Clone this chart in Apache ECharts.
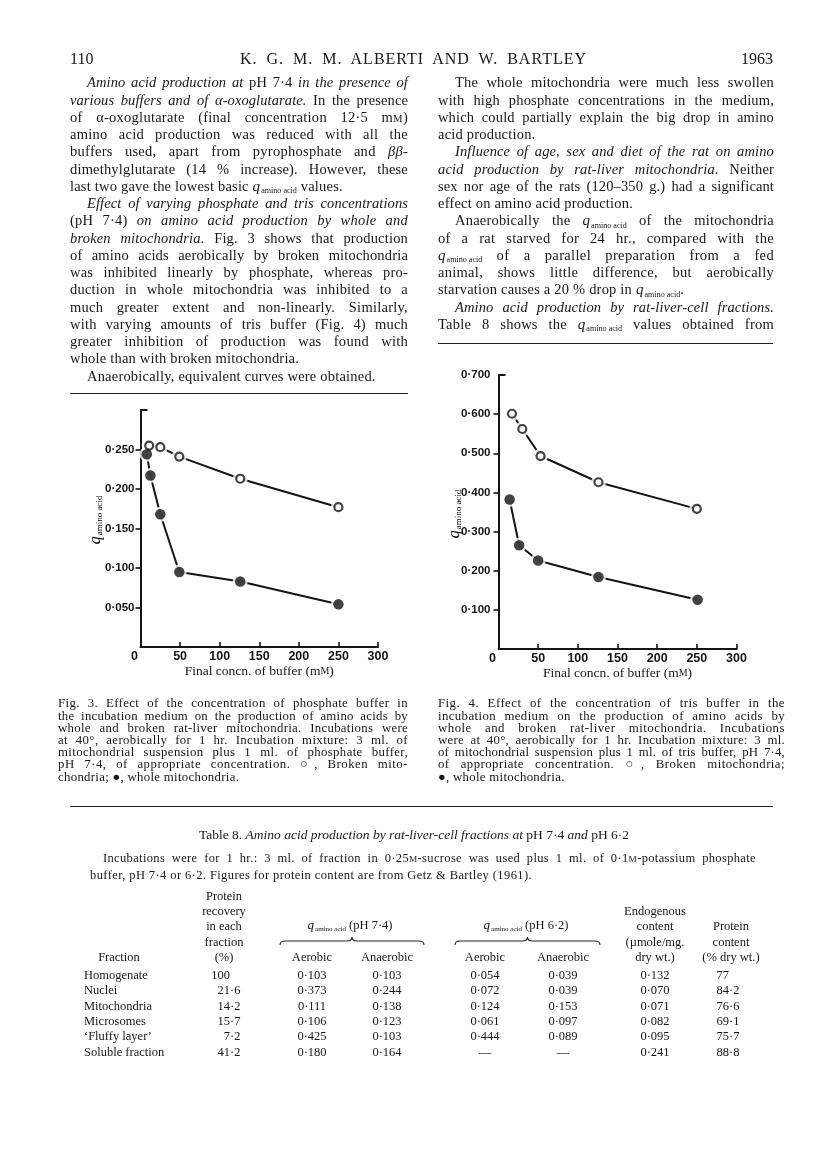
<!DOCTYPE html>
<html lang="en">
<head>
<meta charset="utf-8">
<title>Alberti &amp; Bartley 1963 – p. 110</title>
<script src="https://cdn.jsdelivr.net/npm/echarts@6.0.0/dist/echarts.min.js"></script>
<style>
html,body{margin:0;padding:0;background:#fff;}
#page{position:relative;width:816px;height:1167px;overflow:hidden;background:#fff;color:#171717;font-family:"Liberation Serif","DejaVu Serif",serif;}
#chart{position:absolute;left:0;top:0;width:816px;height:1167px;z-index:1;}
.j{position:absolute;white-space:nowrap;text-align:justify;text-align-last:justify;z-index:2;}
.j.m{text-align-last:left;}
.t{position:absolute;white-space:nowrap;z-index:2;}
.sc{font-size:0.74em;}
.q{display:inline-block;white-space:nowrap;letter-spacing:0;}
.q i{font-size:1.04em;}
.q span{font-size:0.56em;position:relative;top:0.32em;margin-left:1px;}
.rule{position:absolute;height:0;border-top:1.6px solid #222;z-index:2;}
svg.br{position:absolute;left:0;top:0;z-index:2;overflow:visible;}
</style>
</head>
<body>
<div id="page">
  <div id="chart"></div>
</div>
<script>
// ---------------- DATA ----------------
// Fig. 3 – phosphate buffer
const fig3BrokenX = [11, 25, 49, 126, 250];
const fig3BrokenY = [0.255, 0.253, 0.241, 0.213, 0.177];
const fig3WholeX  = [8, 12.5, 25, 49, 126, 250];
const fig3WholeY  = [0.244, 0.217, 0.168, 0.095, 0.083, 0.054];
// Fig. 4 – tris buffer
const fig4BrokenX = [17, 30, 53, 126, 250];
const fig4BrokenY = [0.601, 0.562, 0.493, 0.426, 0.358];
const fig4WholeX  = [14, 26, 50, 126, 251];
const fig4WholeY  = [0.382, 0.265, 0.226, 0.184, 0.126];
// axes
const xTicks = [0, 50, 100, 150, 200, 250, 300];
const fig3YTicks = [0.05, 0.10, 0.15, 0.20, 0.25];
const fig4YTicks = [0.1, 0.2, 0.3, 0.4, 0.5, 0.6, 0.7];

// Table 8
const tblFractions = ['Homogenate', 'Nuclei', 'Mitochondria', 'Microsomes', '‘Fluffy layer’', 'Soluble fraction'];
const tblRecovery  = [100, 21.6, 14.2, 15.7, 7.2, 41.2];
const tblAer74     = [0.103, 0.373, 0.111, 0.106, 0.425, 0.180];
const tblAnaer74   = [0.103, 0.244, 0.138, 0.123, 0.103, 0.164];
const tblAer62     = [0.054, 0.072, 0.124, 0.061, 0.444, null];
const tblAnaer62   = [0.039, 0.039, 0.153, 0.097, 0.089, null];
const tblEndog     = [0.132, 0.070, 0.071, 0.082, 0.095, 0.241];
const tblProtein   = [77, 84.2, 76.6, 69.1, 75.7, 88.8];

// ---------------- TEXT ----------------
const Q = '<span class="q"><i>q</i><span>amino acid</span></span>';
const SC = s => '<span class="sc">' + s + '</span>';

const leftText = [
 ['i', '<i>Amino acid production at</i> pH 7·4 <i>in the presence of</i>'],
 ['',  '<i>various buffers and of α-oxoglutarate.</i> In the presence'],
 ['',  'of α-oxoglutarate (final concentration 12·5 m' + SC('M') + ')'],
 ['',  'amino acid production was reduced with all the'],
 ['',  'buffers used, apart from pyrophosphate and <i>ββ</i>-'],
 ['',  'dimethylglutarate (14 % increase). However, these'],
 ['e', 'last two gave the lowest basic ' + Q + ' values.'],
 ['i', '<i>Effect of varying phosphate and tris concentrations</i>'],
 ['',  '(pH 7·4) <i>on amino acid production by whole and</i>'],
 ['',  '<i>broken mitochondria.</i> Fig. 3 shows that production'],
 ['',  'of amino acids aerobically by broken mitochondria'],
 ['',  'was inhibited linearly by phosphate, whereas pro-'],
 ['',  'duction in whole mitochondria was inhibited to a'],
 ['',  'much greater extent and non-linearly. Similarly,'],
 ['',  'with varying amounts of tris buffer (Fig. 4) much'],
 ['',  'greater inhibition of production was found with'],
 ['e', 'whole than with broken mitochondria.'],
 ['ie','Anaerobically, equivalent curves were obtained.']
];
const rightText = [
 ['i', 'The whole mitochondria were much less swollen'],
 ['',  'with high phosphate concentrations in the medium,'],
 ['',  'which could partially explain the big drop in amino'],
 ['e', 'acid production.'],
 ['i', '<i>Influence of age, sex and diet of the rat on amino</i>'],
 ['',  '<i>acid production by rat-liver mitochondria.</i> Neither'],
 ['',  'sex nor age of the rats (120–350 g.) had a significant'],
 ['e', 'effect on amino acid production.'],
 ['i', 'Anaerobically the ' + Q + ' of the mitochondria'],
 ['',  'of a rat starved for 24 hr., compared with the'],
 ['',  Q + ' of a parallel preparation from a fed'],
 ['',  'animal, shows little difference, but aerobically'],
 ['e', 'starvation causes a 20 % drop in ' + Q + '.'],
 ['i', '<i>Amino acid production by rat-liver-cell fractions.</i>'],
 ['',  'Table 8 shows the ' + Q + ' values obtained from']
];
const cap3 = [
 ['', 'Fig. 3. Effect of the concentration of phosphate buffer in'],
 ['', 'the incubation medium on the production of amino acids by'],
 ['', 'whole and broken rat-liver mitochondria. Incubations were'],
 ['', 'at 40°, aerobically for 1 hr. Incubation mixture: 3 ml. of'],
 ['', 'mitochondrial suspension plus 1 ml. of phosphate buffer,'],
 ['', 'pH 7·4, of appropriate concentration. ○, Broken mito-'],
 ['e','chondria; ●, whole mitochondria.']
];
const cap4 = [
 ['', 'Fig. 4. Effect of the concentration of tris buffer in the'],
 ['', 'incubation medium on the production of amino acids by'],
 ['', 'whole and broken rat-liver mitochondria. Incubations'],
 ['', 'were at 40°, aerobically for 1 hr. Incubation mixture: 3 ml.'],
 ['', 'of mitochondrial suspension plus 1 ml. of tris buffer, pH 7·4,'],
 ['', 'of appropriate concentration. ○, Broken mitochondria;'],
 ['e','●, whole mitochondria.']
];
const notes = [
 ['i', 'Incubations were for 1 hr.: 3 ml. of fraction in 0·25' + SC('M') + '-sucrose was used plus 1 ml. of 0·1' + SC('M') + '-potassium phosphate'],
 ['e', 'buffer, pH 7·4 or 6·2. Figures for protein content are from Getz &amp; Bartley (1961).']
];

// ---------------- HTML LAYOUT ----------------
const page = document.getElementById('page');
// fill: share of the free width given to letter spacing (emulates the wider original type)
function addBlock(lines, x, y0, dy, width, fs, indent, fill, lsEnd) {
  lines.forEach((ln, k) => {
    const d = document.createElement('div');
    const ind = ln[0].includes('i') ? indent : 0;
    const isEnd = ln[0].includes('e');
    d.className = 'j m';
    d.style.left = (x + ind) + 'px';
    d.style.width = (width - ind) + 'px';
    d.style.fontSize = fs + 'px';
    d.style.lineHeight = Math.round(fs * 1.2) + 'px';
    d.style.top = (y0 + k * dy - fs * 0.6) + 'px';
    d.innerHTML = '<span class="in">' + ln[1] + '</span>';
    page.appendChild(d);
    const natural = d.firstChild.getBoundingClientRect().width;
    const w = width - ind;
    const n = d.textContent.length;
    let ls = 0;
    if (natural > w) ls = -(natural - w) / n - 0.03;
    else if (fill && !isEnd) ls = Math.min(0.6, (w - natural) * fill / n);
    else if (isEnd && lsEnd) ls = lsEnd;
    d.style.letterSpacing = ls + 'px';
    if (!isEnd) d.classList.remove('m');
  });
}
function put(html, x, y, fs, align, extra) {
  const d = document.createElement('div');
  d.className = 't';
  d.style.left = x + 'px';
  d.style.top = y + 'px';
  d.style.fontSize = fs + 'px';
  d.style.lineHeight = Math.round(fs * 1.2) + 'px';
  const tx = align === 'center' ? -50 : align === 'right' ? -100 : 0;
  d.style.transform = 'translate(' + tx + '%,-50%)';
  if (extra) Object.assign(d.style, extra);
  d.innerHTML = html;
  page.appendChild(d);
  return d;
}
function rule(x1, x2, y) {
  const d = document.createElement('div');
  d.className = 'rule';
  d.style.left = x1 + 'px'; d.style.width = (x2 - x1) + 'px'; d.style.top = y + 'px';
  page.appendChild(d);
}

// running head
put('110', 70, 58, 16, 'left');
put('K. G. M. M. ALBERTI AND W. BARTLEY', 240, 58, 16, 'left', {width: '347px', textAlign: 'justify', textAlignLast: 'justify', letterSpacing: '1px'});
put('1963', 773, 58, 16, 'right');

// body columns
addBlock(leftText, 70, 83, 17.25, 338, 14.5, 17, 0.2, 0.2);
addBlock(rightText, 438, 83, 17.25, 336, 14.5, 17, 0.2, 0.2);
rule(70, 408, 393);
rule(438, 773, 343);

// captions
addBlock(cap3, 58, 704, 12.2, 350, 12.8, 0, 0.35, 0.3);
addBlock(cap4, 438, 704, 12.2, 347, 12.8, 0, 0.35, 0.3);
rule(70, 773, 806);

// table title and notes
put('Table 8. <i>Amino acid production by rat-liver-cell fractions at</i> pH 7·4 <i>and</i> pH 6·2', 414, 835, 13.5, 'center');
addBlock(notes, 90, 858, 17, 666, 12.5, 13, 0.4, 0.4);

// table header
const fsT = 12.5;
const colFrac = 84, colFracHead = 119, colRecDec = 230, colA74 = 312, colN74 = 387, colA62 = 485, colN62 = 563, colEnd = 655, colProtDec = 729;
const colRecHead = 224, colProtHead = 731;
const hy = [896, 911, 926, 942, 957];
['Protein', 'recovery', 'in each', 'fraction', '(%)'].forEach((s, i) => put(s, colRecHead, hy[i], fsT, 'center'));
['Endogenous', 'content', '(µmole/mg.', 'dry wt.)'].forEach((s, i) => put(s, colEnd, hy[i + 1], fsT, 'center'));
['Protein', 'content', '(% dry wt.)'].forEach((s, i) => put(s, colProtHead, hy[i + 2], fsT, 'center'));
put(Q + ' (pH 7·4)', 350, hy[2], fsT, 'center');
put(Q + ' (pH 6·2)', 526, hy[2], fsT, 'center');
put('Fraction', colFracHead, hy[4], fsT, 'center');
put('Aerobic', colA74, hy[4], fsT, 'center');
put('Anaerobic', colN74, hy[4], fsT, 'center');
put('Aerobic', colA62, hy[4], fsT, 'center');
put('Anaerobic', colN62, hy[4], fsT, 'center');

// braces
function brace(x0, x1, y) {
  const m = (x0 + x1) / 2;
  const svg = document.createElementNS('http://www.w3.org/2000/svg', 'svg');
  svg.setAttribute('class', 'br'); svg.setAttribute('width', '816'); svg.setAttribute('height', '1167');
  const p = document.createElementNS('http://www.w3.org/2000/svg', 'path');
  p.setAttribute('d', `M${x0},${y + 4} Q${x0},${y} ${x0 + 5},${y} L${m - 5},${y} Q${m},${y} ${m},${y - 4} Q${m},${y} ${m + 5},${y} L${x1 - 5},${y} Q${x1},${y} ${x1},${y + 4}`);
  p.setAttribute('fill', 'none'); p.setAttribute('stroke', '#222'); p.setAttribute('stroke-width', '1.1');
  svg.appendChild(p); page.appendChild(svg);
}
brace(280, 424, 941);
brace(455, 600, 941);

// table body
const f3 = v => v == null ? '—' : v.toFixed(3).replace('.', '·');
function decPut(v, xDec, y) {
  const s = Number.isInteger(v) ? String(v) : v.toFixed(1);
  const [a, b] = s.split('.');
  put(a, xDec, y, fsT, 'right');
  if (b !== undefined) put('·' + b, xDec, y, fsT, 'left');
}
tblFractions.forEach((name, i) => {
  const y = 975 + i * 15.3;
  put(name, colFrac, y, fsT, 'left');
  decPut(tblRecovery[i], colRecDec, y);
  put(f3(tblAer74[i]), colA74, y, fsT, 'center');
  put(f3(tblAnaer74[i]), colN74, y, fsT, 'center');
  put(f3(tblAer62[i]), colA62, y, fsT, 'center');
  put(f3(tblAnaer62[i]), colN62, y, fsT, 'center');
  put(f3(tblEndog[i]), colEnd, y, fsT, 'center');
  decPut(tblProtein[i], colProtDec, y);
});

// ---------------- ECHARTS FIGURES ----------------
const chart = echarts.init(document.getElementById('chart'), null, {renderer: 'canvas'});
const INK = '#141414';
const tickFmt = v => v.toFixed(3).replace('.', '·');
function xAxisCfg(gi) {
  return {
    gridIndex: gi, type: 'value', min: xTicks[0], max: xTicks[xTicks.length - 1], interval: xTicks[1] - xTicks[0],
    splitLine: {show: false},
    axisLine: {onZero: false, lineStyle: {color: INK, width: 2}},
    axisTick: {inside: true, length: 5, lineStyle: {color: INK, width: 1.6}},
    axisLabel: {
      margin: 3, color: INK, fontFamily: 'Liberation Sans', fontWeight: 'bold', fontSize: 12.5,
      formatter: v => v === 0 ? '{z|0}' : String(v),
      rich: {z: {padding: [0, 12, 0, 0], fontFamily: 'Liberation Sans', fontWeight: 'bold', fontSize: 12.5, color: INK}}
    },
    name: 'Final concn. of buffer (m{sc|M})', nameLocation: 'middle', nameGap: 17,
    nameTextStyle: {color: INK, fontFamily: 'Liberation Serif', fontSize: 13.5,
      rich: {sc: {fontFamily: 'Liberation Serif', fontSize: 10, color: INK}}}
  };
}
function yAxisCfg(gi, ticks, showTop, margin) {
  const step = ticks[1] - ticks[0];
  const top = ticks[ticks.length - 1] + (showTop ? 0 : step);
  const tickVals = showTop ? ticks.slice(0, -1) : ticks.slice();
  return {
    gridIndex: gi, type: 'value', min: 0, max: +top.toFixed(3), interval: step,
    splitLine: {show: false},
    axisLine: {onZero: false, lineStyle: {color: INK, width: 2}},
    axisTick: {inside: false, length: 5, customValues: tickVals, lineStyle: {color: INK, width: 1.6}},
    axisLabel: {
      margin, color: INK, fontFamily: 'Liberation Sans', fontWeight: 'bold', fontSize: 11.5,
      formatter: v => ticks.some(t => Math.abs(t - v) < 1e-9) ? tickFmt(v) : ''
    }
  };
}
function capAxis(gi, maxV) {
  return {
    gridIndex: gi, type: 'value', min: 0, max: maxV, position: 'left',
    axisLine: {show: false}, splitLine: {show: false}, axisLabel: {show: false},
    axisTick: {show: true, inside: true, length: 7, customValues: [maxV], lineStyle: {color: INK, width: 2}}
  };
}
function seriesFor(xs, ys, xi, yi, open) {
  const data = xs.map((x, i) => [x, ys[i]]);
  return [
    {type: 'line', xAxisIndex: xi, yAxisIndex: yi, data, symbol: 'none', lineStyle: {color: INK, width: 2}, z: 2, silent: true},
    {type: 'scatter', xAxisIndex: xi, yAxisIndex: yi, data, symbol: 'circle', symbolSize: 15, itemStyle: {color: '#fff'}, z: 3, silent: true},
    {type: 'scatter', xAxisIndex: xi, yAxisIndex: yi, data, symbol: 'circle',
     symbolSize: open ? 8 : 10.5,
     itemStyle: open ? {color: '#fff', borderColor: INK, borderWidth: 2.2} : {color: INK}, z: 4}
  ];
}
const y3 = yAxisCfg(0, fig3YTicks, false, 6);
const y4 = yAxisCfg(1, fig4YTicks, true, 8);
const yName = (x, y) => ({
  type: 'text', x, y, rotation: Math.PI / 2,
  style: {
    text: '{q|q}{s|amino acid}', align: 'center', verticalAlign: 'middle',
    rich: {
      q: {fontFamily: 'Liberation Serif', fontStyle: 'italic', fontSize: 16, color: INK, lineHeight: 16, verticalAlign: 'bottom'},
      s: {fontFamily: 'Liberation Serif', fontSize: 9, color: INK, lineHeight: 10, verticalAlign: 'bottom', padding: [0, 0, 0, 1]}
    }
  }
});
chart.setOption({
  animation: false,
  backgroundColor: 'transparent',
  grid: [
    {left: 140.5, top: 410, width: 237.5, height: 237},
    {left: 498.5, top: 375, width: 238, height: 274}
  ],
  xAxis: [xAxisCfg(0), xAxisCfg(1)],
  yAxis: [y3, y4, capAxis(0, y3.max), capAxis(1, y4.max)],
  series: [
    ...seriesFor(fig3BrokenX, fig3BrokenY, 0, 0, true),
    ...seriesFor(fig3WholeX, fig3WholeY, 0, 0, false),
    ...seriesFor(fig4BrokenX, fig4BrokenY, 1, 1, true),
    ...seriesFor(fig4WholeX, fig4WholeY, 1, 1, false)
  ],
  graphic: [yName(96, 520), yName(455, 514)]
});
</script>
</body>
</html>
